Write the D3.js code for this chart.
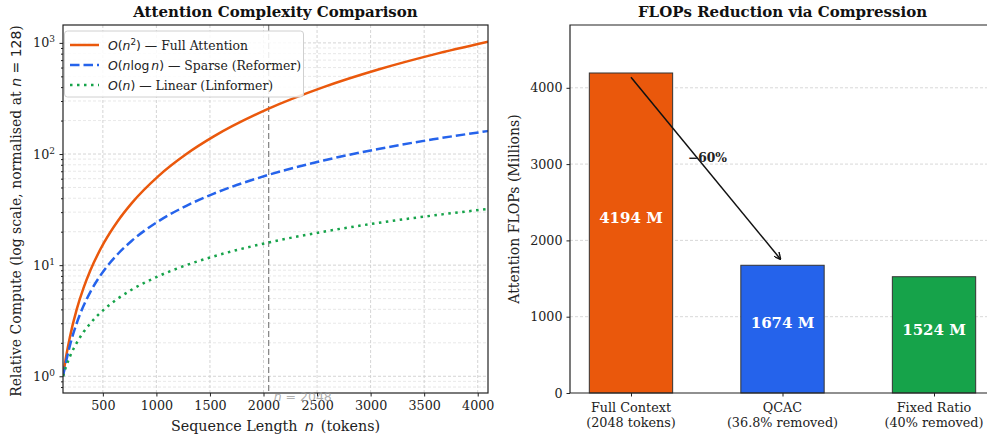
<!DOCTYPE html>
<html>
<head>
<meta charset="utf-8">
<script src="https://cdn.jsdelivr.net/npm/d3@7"></script>
<style>
  body { margin: 0; background: #fff; }
  svg { display: block; font-family: "DejaVu Serif", serif; }
</style>
</head>
<body>
<svg id="chart" width="987" height="434"></svg>
<script>
// ---- data: left panel (relative compute, normalised at n = 128) ----
const seqLen   = [128, 160, 192, 256, 320, 384, 512, 640, 768, 1024, 1280, 1536, 2048, 2560, 3072, 3584, 4096];
const fullAttn = [1, 1.56, 2.25, 4, 6.25, 9, 16, 25, 36, 64, 100, 144, 256, 400, 576, 784, 1024];
const sparseAttn = [1, 1.4, 1.88, 3, 4.3, 5.75, 9, 12.6, 16.5, 25, 34.2, 44, 65, 87.4, 111, 135.6, 161];
const linearAttn = [1, 1.25, 1.5, 2, 2.5, 3, 4, 5, 6, 8, 10, 12, 16, 20, 24, 28, 32];
const xTicks = [500, 1000, 1500, 2000, 2500, 3000, 3500, 4000];
const markerN = 2048;

// ---- data: right panel (attention FLOPs, millions) ----
const methods = [["Full Context", "(2048 tokens)"], ["QCAC", "(36.8% removed)"], ["Fixed Ratio", "(40% removed)"]];
const flops = [4194, 1674, 1524];
const barColors = ["#ea580c", "#2563eb", "#16a34a"];
const flopTicks = [0, 1000, 2000, 3000, 4000];
const reductionLabel = "\u221260%";

const svg = d3.select("#chart");
const mathFont = "DejaVu Sans";
const tickSize = 12.7;

// ================= left panel =================
const L = {left: 63, right: 488, top: 25, bottom: 393};
const x = d3.scaleLinear().domain([128, 4096]).range([L.left, L.right]);
const y = d3.scaleLog().domain([0.707, 1449]).range([L.bottom, L.top]);

const left = svg.append("g");

// gridlines (major + minor on log axis)
const minorVals = [];
for (let e = -1; e <= 3; e++) {
    for (let m = 1; m <= 9; m++) {
        const v = m * Math.pow(10, e);
        if (v >= 0.707 && v <= 1449) minorVals.push(v);
    }
}
const isMajor = d => [1, 10, 100, 1000].includes(d);
left.append("g").selectAll("line")
    .data(minorVals)
    .enter().append("line")
    .attr("x1", L.left).attr("x2", L.right)
    .attr("y1", d => y(d)).attr("y2", d => y(d))
    .attr("stroke", d => isMajor(d) ? "#cfcfcf" : "#dedede")
    .attr("stroke-width", d => isMajor(d) ? 0.9 : 0.7)
    .attr("stroke-dasharray", "3,2");

left.append("g").selectAll("line")
    .data(xTicks)
    .enter().append("line")
    .attr("x1", d => x(d)).attr("x2", d => x(d))
    .attr("y1", L.top).attr("y2", L.bottom)
    .attr("stroke", "#cfcfcf")
    .attr("stroke-width", 0.9)
    .attr("stroke-dasharray", "3,2");

// n = 2048 marker
left.append("line")
    .attr("x1", x(markerN)).attr("x2", x(markerN))
    .attr("y1", L.top).attr("y2", L.bottom)
    .attr("stroke", "#8a8a8a")
    .attr("stroke-width", 1.3)
    .attr("stroke-dasharray", "6,3");

// curves
svg.append("defs").append("clipPath").attr("id", "clipL")
    .append("rect").attr("x", L.left).attr("y", L.top)
    .attr("width", L.right - L.left).attr("height", L.bottom - L.top);

const series = [
    {vals: fullAttn, color: "#ea580c", dash: null},
    {vals: sparseAttn, color: "#2563eb", dash: "9.5,4"},
    {vals: linearAttn, color: "#16a34a", dash: "2.5,4.5"}
];
const line = d3.line().curve(d3.curveMonotoneX);
for (const s of series) {
    left.append("path")
        .datum(seqLen.map((n, i) => [x(n), y(s.vals[i])]))
        .attr("clip-path", "url(#clipL)")
        .attr("fill", "none")
        .attr("stroke", s.color)
        .attr("stroke-width", 2.5)
        .attr("stroke-dasharray", s.dash)
        .attr("d", line);
}

// axes
const xAxisL = left.append("g")
    .attr("transform", `translate(0,${L.bottom})`)
    .call(d3.axisBottom(x).tickValues(xTicks).tickSize(3.5).tickPadding(4).tickFormat(d3.format("d")));
const yAxisL = left.append("g")
    .attr("transform", `translate(${L.left},0)`)
    .call(d3.axisLeft(y).tickValues([1, 10, 100, 1000]).tickSize(3.5).tickPadding(4).tickFormat(""));
left.append("g")
    .attr("transform", `translate(${L.left},0)`)
    .call(d3.axisLeft(y).tickValues(minorVals.filter(v => !isMajor(v))).tickSize(2).tickFormat(""));
for (const g of [xAxisL, yAxisL]) {
    g.selectAll("text").attr("font-family", "DejaVu Serif").attr("font-size", tickSize).attr("fill", "#222");
}
left.selectAll(".tick line").attr("stroke", "#222");
left.selectAll(".domain").remove();

// y tick labels with superscripts
[0, 1, 2, 3].forEach(e => {
    const t = left.append("text")
        .attr("x", L.left - 8).attr("y", y(Math.pow(10, e)) + 4.5)
        .attr("text-anchor", "end")
        .attr("font-size", tickSize).attr("fill", "#222");
    t.append("tspan").text("10");
    t.append("tspan").attr("dy", -5).attr("font-size", 9).text(e);
});

// frame
left.append("rect")
    .attr("x", L.left).attr("y", L.top)
    .attr("width", L.right - L.left).attr("height", L.bottom - L.top)
    .attr("fill", "none").attr("stroke", "#222").attr("stroke-width", 1.2);

// n = 2048 label (sits over the tick labels, as in the source)
const nl = left.append("text")
    .attr("x", x(markerN) + 5).attr("y", 401)
    .attr("font-size", 12.5).attr("fill", "#9a9a9a").attr("fill-opacity", 0.8)
    .attr("font-family", mathFont);
nl.append("tspan").attr("font-style", "italic").text("n");
nl.append("tspan").text(" = " + markerN);

// legend
const leg = left.append("g");
leg.append("rect")
    .attr("x", 64.5).attr("y", 31).attr("width", 239).attr("height", 66).attr("rx", 3)
    .attr("fill", "#fff").attr("fill-opacity", 0.85).attr("stroke", "#d0d0d0");
const legItems = [
    {s: series[0], parts: [["O", 1], ["(", 0], ["n", 1], ["2", 2], [")", 4]], rest: " \u2014 Full Attention"},
    {s: series[1], parts: [["O", 1], ["(", 0], ["n", 1], ["log", 0], ["n", 3], [")", 0]], rest: " \u2014 Sparse (Reformer)"},
    {s: series[2], parts: [["O", 1], ["(", 0], ["n", 1], [")", 0]], rest: " \u2014 Linear (Linformer)"}
];
legItems.forEach((it, i) => {
    const yy = 45 + i * 20;
    leg.append("line")
        .attr("x1", 70).attr("x2", 99).attr("y1", yy).attr("y2", yy)
        .attr("stroke", it.s.color).attr("stroke-width", 2.5)
        .attr("stroke-dasharray", it.s.dash);
    const t = leg.append("text").attr("x", 108).attr("y", yy + 4.5).attr("font-size", 12.4).attr("fill", "#222");
    for (const [txt, kind] of it.parts) {
        const sp = t.append("tspan").attr("font-family", mathFont).text(txt);
        if (kind === 1) sp.attr("font-style", "italic");
        if (kind === 3) sp.attr("font-style", "italic").attr("dx", 2);
        if (kind === 2) sp.attr("dy", -5).attr("font-size", 8.8);
        if (kind === 4) sp.attr("dy", 5);
    }
    t.append("tspan").text(it.rest);
});

// titles and axis labels
left.append("text")
    .attr("x", (L.left + L.right) / 2).attr("y", 17)
    .attr("text-anchor", "middle").attr("font-weight", "bold").attr("font-size", 15)
    .attr("fill", "#111").text("Attention Complexity Comparison");

const xl = left.append("text")
    .attr("x", (L.left + L.right) / 2).attr("y", 431)
    .attr("text-anchor", "middle").attr("font-size", 14.3).attr("fill", "#222");
xl.append("tspan").text("Sequence Length\u2002");
xl.append("tspan").attr("font-family", mathFont).attr("font-style", "italic").text("n");
xl.append("tspan").text("\u2002(tokens)");

const yl = left.append("text")
    .attr("transform", `translate(21,${(L.top + L.bottom) / 2 + 2}) rotate(-90)`)
    .attr("text-anchor", "middle").attr("font-size", 14).attr("fill", "#222");
yl.append("tspan").text("Relative Compute (log scale, normalised at ");
yl.append("tspan").attr("font-family", mathFont).attr("font-style", "italic").text("n");
yl.append("tspan").attr("font-family", mathFont).text(" = 128");
yl.append("tspan").text(")");

// ================= right panel =================
const R = {left: 570, right: 995, top: 25, bottom: 393};
const xb = d3.scaleLinear().domain([-0.4025, 2.4025]).range([R.left, R.right]);
const yb = d3.scaleLinear().domain([0, 4194 * 1.15]).range([R.bottom, R.top]);
const barW = xb(0.275) - xb(-0.275);

const right = svg.append("g");

right.append("g").selectAll("line")
    .data(flopTicks.slice(1))
    .enter().append("line")
    .attr("x1", R.left).attr("x2", R.right)
    .attr("y1", d => yb(d)).attr("y2", d => yb(d))
    .attr("stroke", "#d4d4d4").attr("stroke-width", 0.9).attr("stroke-dasharray", "3,2");

right.selectAll(".bar")
    .data(flops)
    .enter().append("rect")
    .attr("class", "bar")
    .attr("x", (d, i) => xb(i) - barW / 2)
    .attr("y", d => yb(d))
    .attr("width", barW)
    .attr("height", d => yb(0) - yb(d))
    .attr("fill", (d, i) => barColors[i])
    .attr("stroke", "#333").attr("stroke-width", 1);

right.selectAll(".barlab")
    .data(flops)
    .enter().append("text")
    .attr("x", (d, i) => xb(i))
    .attr("y", d => yb(d * 0.55) + 5.5)
    .attr("text-anchor", "middle")
    .attr("font-weight", "bold").attr("font-size", 15).attr("fill", "#fff")
    .text(d => `${d} M`);

// arrow annotation
svg.select("defs").append("marker")
    .attr("id", "arrow").attr("viewBox", "0 0 10 10")
    .attr("refX", 9.5).attr("refY", 5)
    .attr("markerWidth", 7).attr("markerHeight", 7)
    .attr("markerUnits", "userSpaceOnUse")
    .attr("orient", "auto")
    .append("path").attr("d", "M0,0 L10,5 L0,10")
    .attr("fill", "none").attr("stroke", "#111").attr("stroke-width", 2);
right.append("line")
    .attr("x1", xb(0)).attr("y1", yb(flops[0] - 55))
    .attr("x2", xb(1) - 2).attr("y2", yb(flops[1] + 80))
    .attr("stroke", "#111").attr("stroke-width", 1.5)
    .attr("marker-end", "url(#arrow)");
right.append("text")
    .attr("x", xb(0.505)).attr("y", yb(3086) + 4.5)
    .attr("text-anchor", "middle")
    .attr("font-weight", "bold").attr("font-size", 12.3).attr("fill", "#222")
    .text(reductionLabel);

// axes
const yAxisR = right.append("g")
    .attr("transform", `translate(${R.left},0)`)
    .call(d3.axisLeft(yb).tickValues(flopTicks).tickSize(3.5).tickPadding(4).tickFormat(d3.format("d")));
const xAxisR = right.append("g")
    .attr("transform", `translate(0,${R.bottom})`)
    .call(d3.axisBottom(xb).tickValues([0, 1, 2]).tickSize(3.5).tickFormat(""));
for (const g of [yAxisR, xAxisR]) {
    g.select(".domain").remove();
    g.selectAll("line").attr("stroke", "#222");
    g.selectAll("text").attr("font-family", "DejaVu Serif").attr("font-size", tickSize).attr("fill", "#222");
}
methods.forEach((m, i) => {
    const t = right.append("text")
        .attr("x", xb(i)).attr("y", 412)
        .attr("text-anchor", "middle").attr("font-size", 12.8).attr("fill", "#222");
    t.append("tspan").attr("x", xb(i)).text(m[0]);
    t.append("tspan").attr("x", xb(i)).attr("dy", 14.5).text(m[1]);
});

// spines: left, top, bottom (right one falls off the page)
right.append("path")
    .attr("d", `M${R.right},${R.top} H${R.left} V${R.bottom} H${R.right}`)
    .attr("fill", "none").attr("stroke", "#222").attr("stroke-width", 1.2);

right.append("text")
    .attr("x", (R.left + R.right) / 2).attr("y", 17)
    .attr("text-anchor", "middle").attr("font-weight", "bold").attr("font-size", 15)
    .attr("fill", "#111").text("FLOPs Reduction via Compression");

right.append("text")
    .attr("transform", `translate(519,${(R.top + R.bottom) / 2}) rotate(-90)`)
    .attr("text-anchor", "middle").attr("font-size", 14).attr("fill", "#222")
    .text("Attention FLOPs (Millions)");
</script>
</body>
</html>
